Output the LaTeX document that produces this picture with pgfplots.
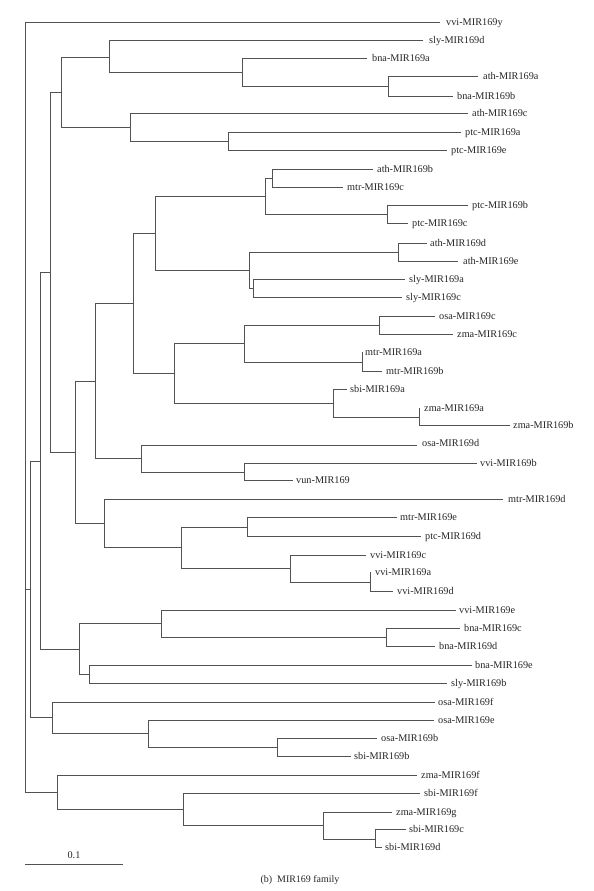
\documentclass[border=0pt]{standalone}
\usepackage{fontspec}
\setmainfont{Liberation Serif}
\usepackage{pgfplots}
\usepackage{pgfplotstable}
\pgfplotsset{compat=1.18}
\pgfplotsset{br/.style={line width=0.8bp, draw=black!68, solid, mark=none}}
\pgfplotstableread{
x y label
446 22 vvi-MIR169y
429 40 sly-MIR169d
372 58 bna-MIR169a
483 76 ath-MIR169a
457 96 bna-MIR169b
472 113 ath-MIR169c
465 132 ptc-MIR169a
451 150 ptc-MIR169e
377 169 ath-MIR169b
347 187 mtr-MIR169c
472 205 ptc-MIR169b
412 223 ptc-MIR169c
430 243 ath-MIR169d
463 261 ath-MIR169e
409 279 sly-MIR169a
406 297 sly-MIR169c
439 316 osa-MIR169c
457 334 zma-MIR169c
365 352 mtr-MIR169a
386 371 mtr-MIR169b
350 389 sbi-MIR169a
424 408 zma-MIR169a
513 425 zma-MIR169b
422 443 osa-MIR169d
480 463 vvi-MIR169b
296 480 vun-MIR169
508 499 mtr-MIR169d
400 517 mtr-MIR169e
425 536 ptc-MIR169d
370 555 vvi-MIR169c
375 572 vvi-MIR169a
397 591 vvi-MIR169d
459 610 vvi-MIR169e
464 628 bna-MIR169c
439 646 bna-MIR169d
475 665 bna-MIR169e
451 683 sly-MIR169b
438 702 osa-MIR169f
438 720 osa-MIR169e
381 738 osa-MIR169b
354 756 sbi-MIR169b
421 775 zma-MIR169f
424 793 sbi-MIR169f
396 812 zma-MIR169g
409 829 sbi-MIR169c
385 847 sbi-MIR169d
}\leaves
\begin{document}
\begin{tikzpicture}
\begin{axis}[
  at={(0,0)}, anchor=south west,
  width=594bp, height=891bp, scale only axis,
  xmin=0, xmax=594, ymin=0, ymax=891, y dir=reverse,
  hide axis, clip=false,
]
\addplot[draw=none, mark=none] coordinates {(0,0) (594,891)};
% root
\addplot[br] coordinates {(440,22) (25,22) (25,792) (57,792)};
\addplot[br] coordinates {(25,589) (30,589)};
% A
\addplot[br] coordinates {(40,461) (30,461) (30,717) (52,717)};
% B
\addplot[br] coordinates {(50,272) (40,272) (40,649) (79,649)};
% C
\addplot[br] coordinates {(61,92) (50,92) (50,452) (75,452)};
% D
\addplot[br] coordinates {(109,57) (61,57) (61,127) (130,127)};
\addplot[br] coordinates {(423,40) (109,40) (109,72) (242,72)};
\addplot[br] coordinates {(367,58) (242,58) (242,86) (388,86)};
\addplot[br] coordinates {(478,76) (388,76) (388,96) (453,96)};
\addplot[br] coordinates {(468,113) (130,113) (130,141) (228,141)};
\addplot[br] coordinates {(461,132) (228,132) (228,150) (447,150)};
% E
\addplot[br] coordinates {(95,381) (75,381) (75,523) (104,523)};
\addplot[br] coordinates {(133,303) (95,303) (95,458) (141,458)};
\addplot[br] coordinates {(155,233) (133,233) (133,373) (174,373)};
\addplot[br] coordinates {(265,196) (155,196) (155,270) (249,270)};
\addplot[br] coordinates {(272,178) (265,178) (265,214) (387,214)};
\addplot[br] coordinates {(373,169) (272,169) (272,187) (343,187)};
\addplot[br] coordinates {(468,205) (387,205) (387,223) (408,223)};
\addplot[br] coordinates {(398,252) (249,252) (249,288) (253,288)};
\addplot[br] coordinates {(427,243) (398,243) (398,261) (458,261)};
\addplot[br] coordinates {(405,279) (253,279) (253,297) (402,297)};
\addplot[br] coordinates {(244,343) (174,343) (174,403) (333,403)};
\addplot[br] coordinates {(379,325) (244,325) (244,362) (362,362)};
\addplot[br] coordinates {(435,316) (379,316) (379,334) (453,334)};
\addplot[br] coordinates {(363,352) (362,352) (362,371) (382,371)};
\addplot[br] coordinates {(347,389) (333,389) (333,417) (419,417)};
\addplot[br] coordinates {(420,408) (419,408) (419,425) (510,425)};
\addplot[br] coordinates {(417,445) (141,445) (141,472) (244,472)};
\addplot[br] coordinates {(477,463) (244,463) (244,480) (293,480)};
\addplot[br] coordinates {(503,499) (104,499) (104,547) (181,547)};
\addplot[br] coordinates {(247,527) (181,527) (181,568) (290,568)};
\addplot[br] coordinates {(397,517) (247,517) (247,536) (421,536)};
\addplot[br] coordinates {(366,555) (290,555) (290,582) (370,582)};
\addplot[br] coordinates {(371,572) (370,572) (370,591) (393,591)};
% 79
\addplot[br] coordinates {(161,623) (79,623) (79,674) (89,674)};
\addplot[br] coordinates {(456,610) (161,610) (161,637) (386,637)};
\addplot[br] coordinates {(460,628) (386,628) (386,646) (435,646)};
\addplot[br] coordinates {(472,665) (89,665) (89,683) (447,683)};
% Y
\addplot[br] coordinates {(435,702) (52,702) (52,733) (148,733)};
\addplot[br] coordinates {(434,720) (148,720) (148,747) (277,747)};
\addplot[br] coordinates {(377,738) (277,738) (277,756) (351,756)};
% Z
\addplot[br] coordinates {(417,775) (57,775) (57,809) (183,809)};
\addplot[br] coordinates {(420,793) (183,793) (183,825) (323,825)};
\addplot[br] coordinates {(392,812) (323,812) (323,839) (375,839)};
\addplot[br] coordinates {(406,829) (375,829) (375,847) (382,847)};
% scale bar
\addplot[br] coordinates {(25,864) (123,864)};
% leaf labels
\addplot[draw=none, mark=none, nodes near coords, point meta=explicit symbolic,
  every node near coord/.append style={anchor=base west, inner sep=0pt, yshift=-3.3bp,
    font=\fontsize{10.3}{12}\selectfont, text=black!85}]
  table[x=x, y=y, meta=label] {\leaves};
\node[font=\fontsize{10.3}{12}\selectfont, text=black!85, anchor=base] at (axis cs:74,858) {0.1};
\node[font=\fontsize{10}{12}\selectfont, text=black!85, anchor=base] at (axis cs:300,882) {(b)\enspace MIR169 family};
\end{axis}
\end{tikzpicture}
\end{document}
